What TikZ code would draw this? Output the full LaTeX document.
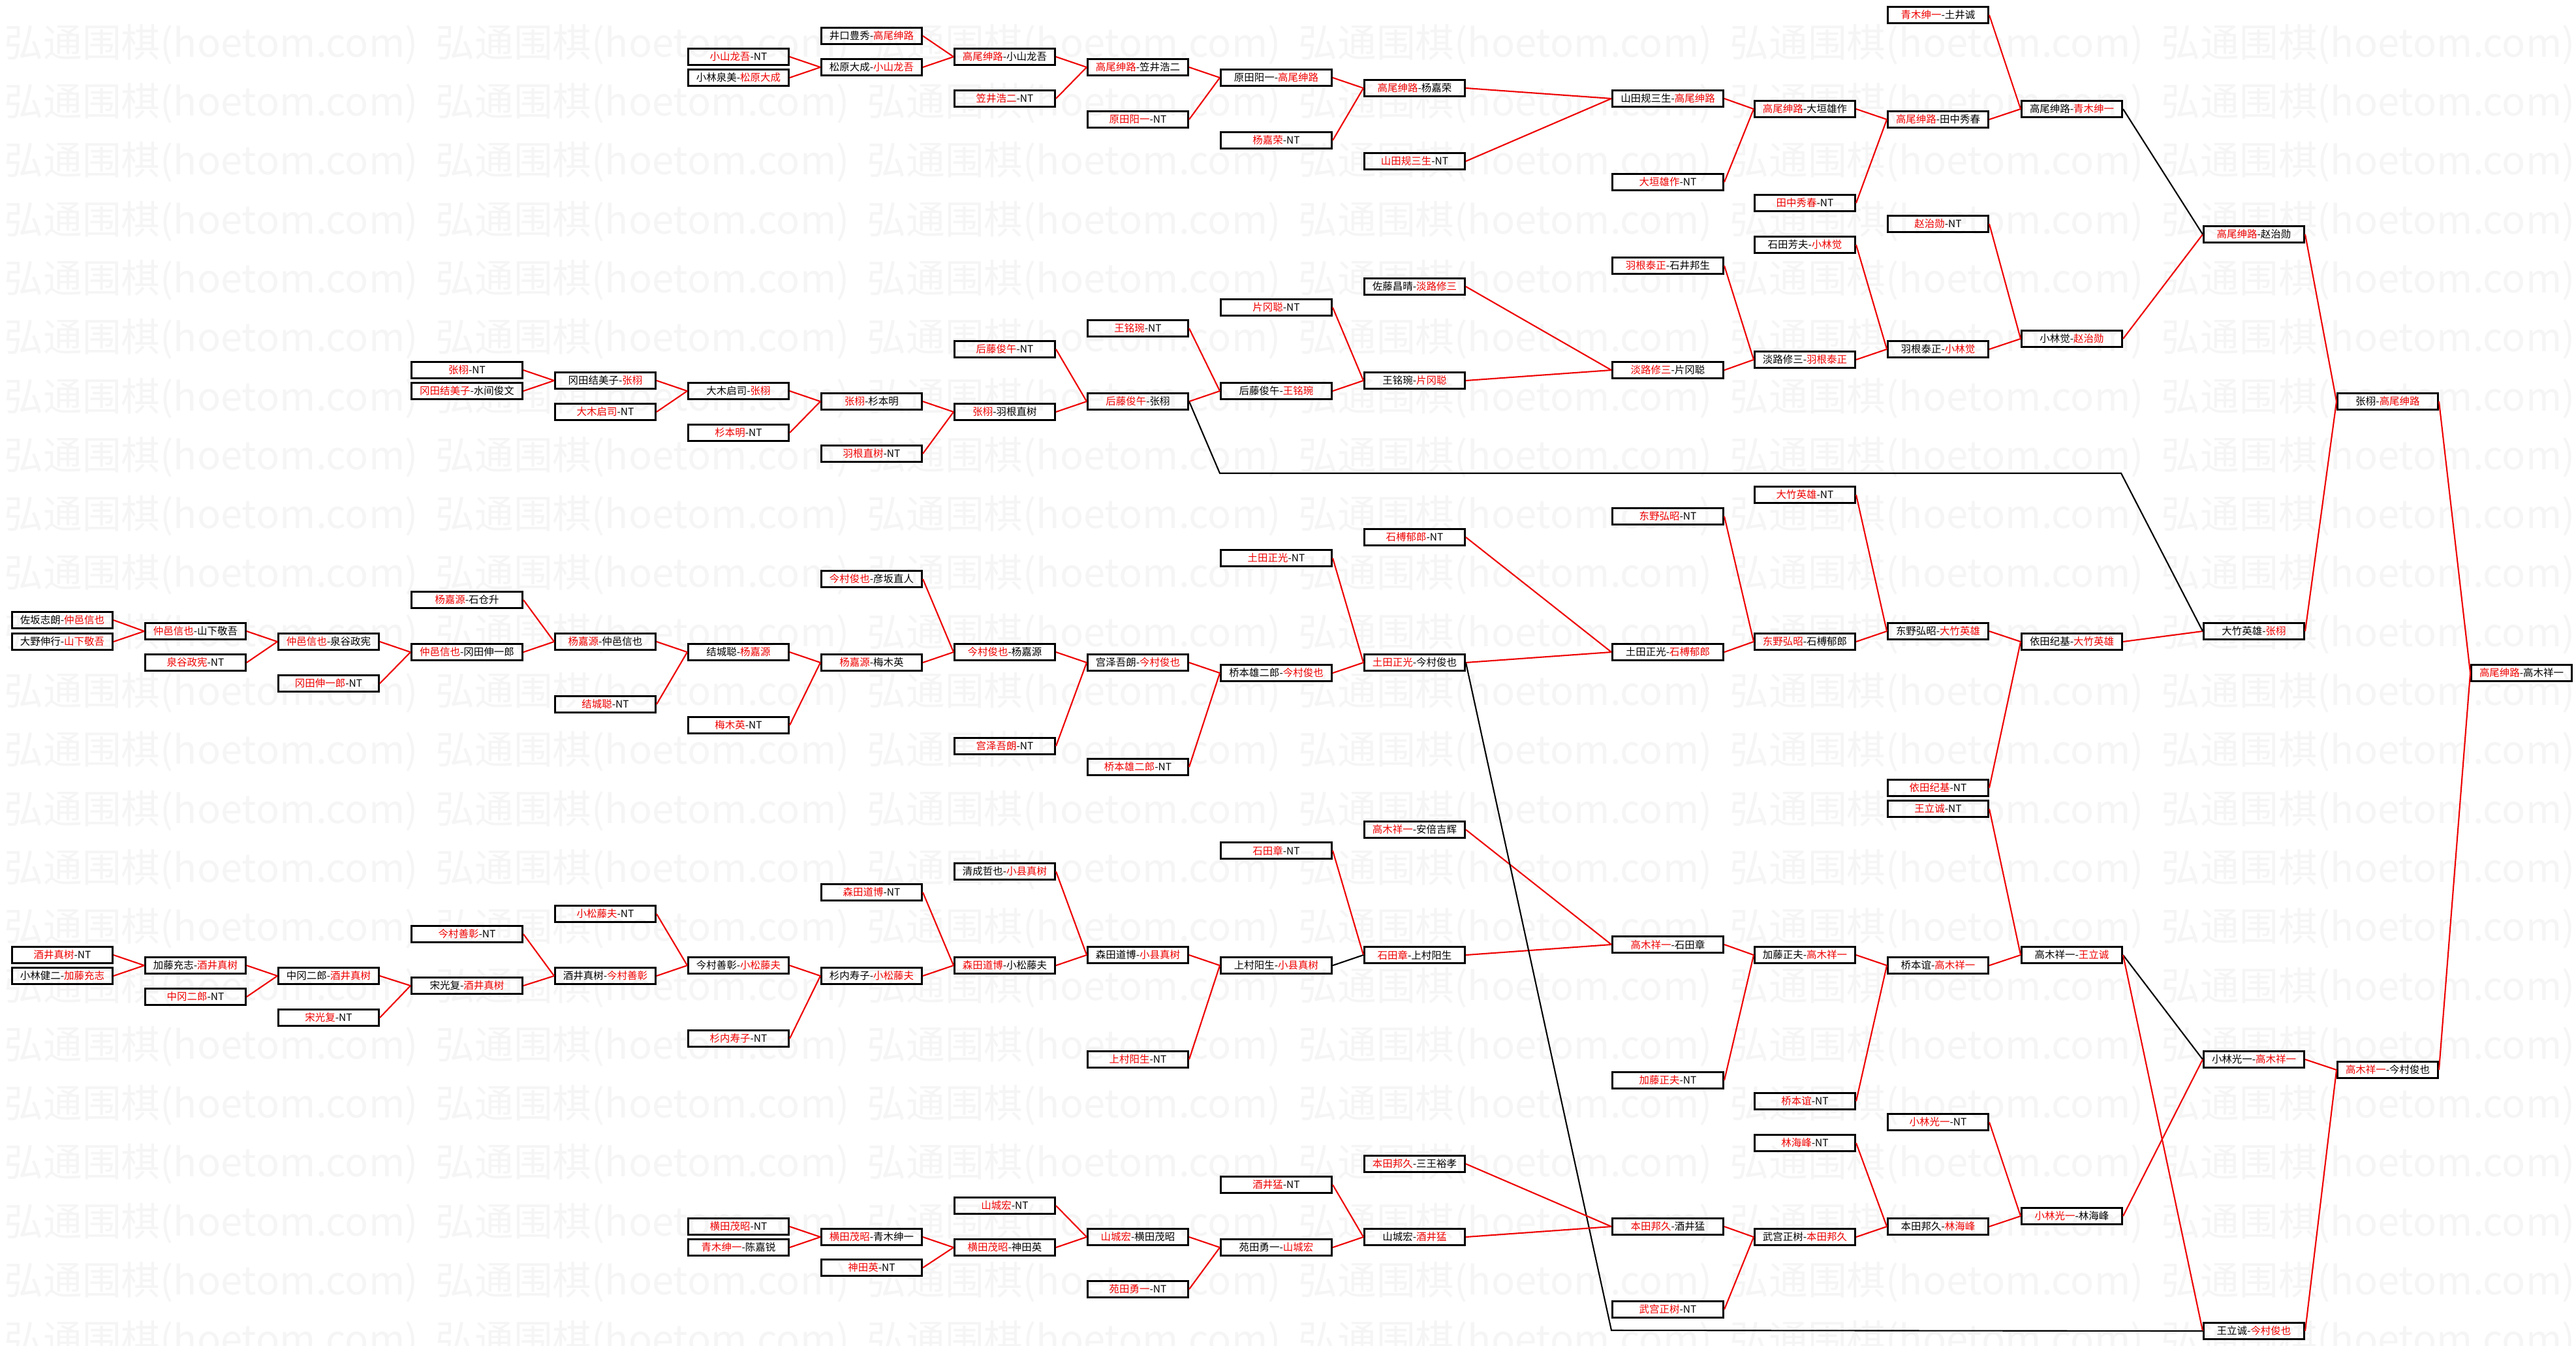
\documentclass[tikz,border=0pt]{standalone}
\usepackage{fontspec}
\usepackage{xcolor}
\usepackage{tikz}
\newfontfamily\cjk{Noto Sans CJK SC}
\definecolor{winred}{RGB}{238,0,0}
\newcommand{\W}[1]{\textcolor{winred}{#1}}
\tikzset{
  blk/.style={draw, line width=0.85pt, anchor=west, inner sep=0pt,
              minimum width=15.4mm, minimum height=2.5mm,
              font=\cjk\fontsize{4.4}{5}\selectfont},
  blkw/.style={blk, minimum width=17mm},
  win/.style={draw=winred, line width=0.6pt},
  lose/.style={draw=black, line width=0.6pt},
  wm/.style={anchor=west, inner sep=0pt, text=black!4,
             font=\cjk\fontsize{17}{17}\selectfont}
}
\begin{document}
\begin{tikzpicture}
  \useasboundingbox (0,0) rectangle (39.47,-20.61);
  \foreach \r in {0,...,22}
    \foreach \c in {0,...,5}
      \node[wm] at ({0.06+6.61*\c},{-0.68-0.903*\r}) {弘通围棋(hoetom.com)};

  \node[blk] (c0a) at (0.17,-9.50) {佐坂志朗-\W{仲邑信也}};
  \node[blk] (c0b) at (0.17,-9.83) {大野伸行-\W{山下敬吾}};
  \node[blk] (c0c) at (0.17,-14.63) {\W{酒井真树}-NT};
  \node[blk] (c0d) at (0.17,-14.95) {小林健二-\W{加藤充志}};

  \node[blk] (c1a) at (2.21,-9.67) {\W{仲邑信也}-山下敬吾};
  \node[blk] (c1b) at (2.21,-10.15) {\W{泉谷政宪}-NT};
  \node[blk] (c1c) at (2.21,-14.79) {加藤充志-\W{酒井真树}};
  \node[blk] (c1d) at (2.21,-15.27) {\W{中冈二郎}-NT};

  \node[blk] (c2a) at (4.25,-9.83) {\W{仲邑信也}-泉谷政宪};
  \node[blk] (c2b) at (4.25,-10.47) {\W{冈田伸一郎}-NT};
  \node[blk] (c2c) at (4.25,-14.95) {中冈二郎-\W{酒井真树}};
  \node[blk] (c2d) at (4.25,-15.59) {\W{宋光复}-NT};

  \node[blkw] (c3a) at (6.29,-5.67) {\W{张栩}-NT};
  \node[blkw] (c3b) at (6.29,-5.99) {\W{冈田结美子}-水间俊文};
  \node[blkw] (c3c) at (6.29,-9.19) {\W{杨嘉源}-石仓升};
  \node[blkw] (c3d) at (6.29,-9.99) {\W{仲邑信也}-冈田伸一郎};
  \node[blkw] (c3e) at (6.29,-14.31) {\W{今村善彰}-NT};
  \node[blkw] (c3f) at (6.29,-15.10) {宋光复-\W{酒井真树}};

  \node[blk] (c4a) at (8.49,-5.83) {冈田结美子-\W{张栩}};
  \node[blk] (c4b) at (8.49,-6.31) {\W{大木启司}-NT};
  \node[blk] (c4c) at (8.49,-9.83) {\W{杨嘉源}-仲邑信也};
  \node[blk] (c4d) at (8.49,-10.79) {\W{结城聪}-NT};
  \node[blk] (c4e) at (8.49,-14.00) {\W{小松藤夫}-NT};
  \node[blk] (c4f) at (8.49,-14.95) {酒井真树-\W{今村善彰}};

  \node[blk] (c5a) at (10.53,-0.87) {\W{小山龙吾}-NT};
  \node[blk] (c5b) at (10.53,-1.19) {小林泉美-\W{松原大成}};
  \node[blk] (c5c) at (10.53,-5.99) {大木启司-\W{张栩}};
  \node[blk] (c5d) at (10.53,-6.63) {\W{杉本明}-NT};
  \node[blk] (c5e) at (10.53,-9.99) {结城聪-\W{杨嘉源}};
  \node[blk] (c5f) at (10.53,-11.11) {\W{梅木英}-NT};
  \node[blk] (c5g) at (10.53,-14.79) {今村善彰-\W{小松藤夫}};
  \node[blk] (c5h) at (10.53,-15.91) {\W{杉内寿子}-NT};
  \node[blk] (c5i) at (10.53,-18.79) {\W{横田茂昭}-NT};
  \node[blk] (c5j) at (10.53,-19.11) {\W{青木绅一}-陈嘉锐};

  \node[blk] (c6a) at (12.57,-0.55) {井口豊秀-\W{高尾绅路}};
  \node[blk] (c6b) at (12.57,-1.03) {松原大成-\W{小山龙吾}};
  \node[blk] (c6c) at (12.57,-6.15) {\W{张栩}-杉本明};
  \node[blk] (c6d) at (12.57,-6.95) {\W{羽根直树}-NT};
  \node[blk] (c6e) at (12.57,-8.87) {\W{今村俊也}-彦坂直人};
  \node[blk] (c6f) at (12.57,-10.15) {\W{杨嘉源}-梅木英};
  \node[blk] (c6g) at (12.57,-13.67) {\W{森田道博}-NT};
  \node[blk] (c6h) at (12.57,-14.95) {杉内寿子-\W{小松藤夫}};
  \node[blk] (c6i) at (12.57,-18.95) {\W{横田茂昭}-青木绅一};
  \node[blk] (c6j) at (12.57,-19.42) {\W{神田英}-NT};

  \node[blk] (c7a) at (14.61,-0.87) {\W{高尾绅路}-小山龙吾};
  \node[blk] (c7b) at (14.61,-1.51) {\W{笠井浩二}-NT};
  \node[blk] (c7c) at (14.61,-5.35) {\W{后藤俊午}-NT};
  \node[blk] (c7d) at (14.61,-6.31) {\W{张栩}-羽根直树};
  \node[blk] (c7e) at (14.61,-9.99) {\W{今村俊也}-杨嘉源};
  \node[blk] (c7f) at (14.61,-11.43) {\W{宫泽吾朗}-NT};
  \node[blk] (c7g) at (14.61,-13.35) {清成哲也-\W{小县真树}};
  \node[blk] (c7h) at (14.61,-14.79) {\W{森田道博}-小松藤夫};
  \node[blk] (c7i) at (14.61,-18.47) {\W{山城宏}-NT};
  \node[blk] (c7j) at (14.61,-19.11) {\W{横田茂昭}-神田英};

  \node[blk] (c8a) at (16.65,-1.03) {\W{高尾绅路}-笠井浩二};
  \node[blk] (c8b) at (16.65,-1.83) {\W{原田阳一}-NT};
  \node[blk] (c8c) at (16.65,-5.03) {\W{王铭琬}-NT};
  \node[blk] (c8d) at (16.65,-6.15) {\W{后藤俊午}-张栩};
  \node[blk] (c8e) at (16.65,-10.15) {宫泽吾朗-\W{今村俊也}};
  \node[blk] (c8f) at (16.65,-11.75) {\W{桥本雄二郎}-NT};
  \node[blk] (c8g) at (16.65,-14.63) {森田道博-\W{小县真树}};
  \node[blk] (c8h) at (16.65,-16.23) {\W{上村阳生}-NT};
  \node[blk] (c8i) at (16.65,-18.95) {\W{山城宏}-横田茂昭};
  \node[blk] (c8j) at (16.65,-19.75) {\W{苑田勇一}-NT};

  \node[blkw] (c9a) at (18.69,-1.19) {原田阳一-\W{高尾绅路}};
  \node[blkw] (c9b) at (18.69,-2.15) {\W{杨嘉荣}-NT};
  \node[blkw] (c9c) at (18.69,-4.71) {\W{片冈聪}-NT};
  \node[blkw] (c9d) at (18.69,-5.99) {后藤俊午-\W{王铭琬}};
  \node[blkw] (c9e) at (18.69,-8.55) {\W{土田正光}-NT};
  \node[blkw] (c9f) at (18.69,-10.31) {桥本雄二郎-\W{今村俊也}};
  \node[blkw] (c9g) at (18.69,-13.03) {\W{石田章}-NT};
  \node[blkw] (c9h) at (18.69,-14.79) {上村阳生-\W{小县真树}};
  \node[blkw] (c9i) at (18.69,-18.15) {\W{酒井猛}-NT};
  \node[blkw] (c9j) at (18.69,-19.11) {苑田勇一-\W{山城宏}};

  \node[blk] (c10a) at (20.89,-1.35) {\W{高尾绅路}-杨嘉荣};
  \node[blk] (c10b) at (20.89,-2.47) {\W{山田规三生}-NT};
  \node[blk] (c10c) at (20.89,-4.39) {佐藤昌晴-\W{淡路修三}};
  \node[blk] (c10d) at (20.89,-5.83) {王铭琬-\W{片冈聪}};
  \node[blk] (c10e) at (20.89,-8.23) {\W{石榑郁郎}-NT};
  \node[blk] (c10f) at (20.89,-10.15) {\W{土田正光}-今村俊也};
  \node[blk] (c10g) at (20.89,-12.71) {\W{高木祥一}-安倍吉辉};
  \node[blk] (c10h) at (20.89,-14.63) {\W{石田章}-上村阳生};
  \node[blk] (c10i) at (20.89,-17.83) {\W{本田邦久}-三王裕孝};
  \node[blk] (c10j) at (20.89,-18.95) {山城宏-\W{酒井猛}};

  \node[blkw] (c11a) at (24.69,-1.51) {山田规三生-\W{高尾绅路}};
  \node[blkw] (c11b) at (24.69,-2.79) {\W{大垣雄作}-NT};
  \node[blkw] (c11c) at (24.69,-4.07) {\W{羽根泰正}-石井邦生};
  \node[blkw] (c11d) at (24.69,-5.67) {\W{淡路修三}-片冈聪};
  \node[blkw] (c11e) at (24.69,-7.91) {\W{东野弘昭}-NT};
  \node[blkw] (c11f) at (24.69,-9.99) {土田正光-\W{石榑郁郎}};
  \node[blkw] (c11g) at (24.69,-14.47) {\W{高木祥一}-石田章};
  \node[blkw] (c11h) at (24.69,-16.55) {\W{加藤正夫}-NT};
  \node[blkw] (c11i) at (24.69,-18.79) {\W{本田邦久}-酒井猛};
  \node[blkw] (c11j) at (24.69,-20.06) {\W{武宫正树}-NT};

  \node[blk] (c12a) at (26.87,-1.67) {\W{高尾绅路}-大垣雄作};
  \node[blk] (c12b) at (26.87,-3.11) {\W{田中秀春}-NT};
  \node[blk] (c12c) at (26.87,-3.75) {石田芳夫-\W{小林觉}};
  \node[blk] (c12d) at (26.87,-5.51) {淡路修三-\W{羽根泰正}};
  \node[blk] (c12e) at (26.87,-7.58) {\W{大竹英雄}-NT};
  \node[blk] (c12f) at (26.87,-9.83) {\W{东野弘昭}-石榑郁郎};
  \node[blk] (c12g) at (26.87,-14.63) {加藤正夫-\W{高木祥一}};
  \node[blk] (c12h) at (26.87,-16.87) {\W{桥本谊}-NT};
  \node[blk] (c12i) at (26.87,-17.51) {\W{林海峰}-NT};
  \node[blk] (c12j) at (26.87,-18.95) {武宫正树-\W{本田邦久}};

  \node[blk] (c13a) at (28.91,-0.23) {\W{青木绅一}-土井诚};
  \node[blk] (c13b) at (28.91,-1.83) {\W{高尾绅路}-田中秀春};
  \node[blk] (c13c) at (28.91,-3.43) {\W{赵治勋}-NT};
  \node[blk] (c13d) at (28.91,-5.35) {羽根泰正-\W{小林觉}};
  \node[blk] (c13e) at (28.91,-9.67) {东野弘昭-\W{大竹英雄}};
  \node[blk] (c13f) at (28.91,-12.07) {\W{依田纪基}-NT};
  \node[blk] (c13g) at (28.91,-12.39) {\W{王立诚}-NT};
  \node[blk] (c13h) at (28.91,-14.79) {桥本谊-\W{高木祥一}};
  \node[blk] (c13i) at (28.91,-17.19) {\W{小林光一}-NT};
  \node[blk] (c13j) at (28.91,-18.79) {本田邦久-\W{林海峰}};

  \node[blk] (c14a) at (30.96,-1.67) {高尾绅路-\W{青木绅一}};
  \node[blk] (c14b) at (30.96,-5.19) {小林觉-\W{赵治勋}};
  \node[blk] (c14c) at (30.96,-9.83) {依田纪基-\W{大竹英雄}};
  \node[blk] (c14d) at (30.96,-14.63) {高木祥一-\W{王立诚}};
  \node[blk] (c14e) at (30.96,-18.63) {\W{小林光一}-林海峰};

  \node[blk] (c15a) at (33.75,-3.59) {\W{高尾绅路}-赵治勋};
  \node[blk] (c15b) at (33.75,-9.67) {大竹英雄-\W{张栩}};
  \node[blk] (c15c) at (33.75,-16.23) {小林光一-\W{高木祥一}};
  \node[blk] (c15d) at (33.75,-20.39) {王立诚-\W{今村俊也}};

  \node[blk] (c16a) at (35.80,-6.15) {张栩-\W{高尾绅路}};
  \node[blk] (c16b) at (35.80,-16.39) {\W{高木祥一}-今村俊也};

  \node[blk] (c17a) at (37.85,-10.31) {\W{高尾绅路}-高木祥一};

  \coordinate (kinkA) at (18.69,-7.25);
  \coordinate (kinkB) at (32.50,-7.25);
  \coordinate (kinkC) at (24.69,-20.38);

  \draw[win] (c0a.east) -- (c1a.west); \draw[win] (c0b.east) -- (c1a.west);
  \draw[win] (c1a.east) -- (c2a.west); \draw[win] (c1b.east) -- (c2a.west);
  \draw[win] (c2a.east) -- (c3d.west); \draw[win] (c2b.east) -- (c3d.west);
  \draw[win] (c3c.east) -- (c4c.west); \draw[win] (c3d.east) -- (c4c.west);
  \draw[win] (c4c.east) -- (c5e.west); \draw[win] (c4d.east) -- (c5e.west);
  \draw[win] (c5e.east) -- (c6f.west); \draw[win] (c5f.east) -- (c6f.west);
  \draw[win] (c6e.east) -- (c7e.west); \draw[win] (c6f.east) -- (c7e.west);
  \draw[win] (c7e.east) -- (c8e.west); \draw[win] (c7f.east) -- (c8e.west);
  \draw[win] (c8e.east) -- (c9f.west); \draw[win] (c8f.east) -- (c9f.west);
  \draw[win] (c9e.east) -- (c10f.west); \draw[win] (c9f.east) -- (c10f.west);
  \draw[win] (c10e.east) -- (c11f.west); \draw[win] (c10f.east) -- (c11f.west);
  \draw[win] (c11e.east) -- (c12f.west); \draw[win] (c11f.east) -- (c12f.west);
  \draw[win] (c12e.east) -- (c13e.west); \draw[win] (c12f.east) -- (c13e.west);
  \draw[win] (c13e.east) -- (c14c.west); \draw[win] (c13f.east) -- (c14c.west);
  \draw[win] (c14c.east) -- (c15b.west);

  \draw[win] (c3a.east) -- (c4a.west); \draw[win] (c3b.east) -- (c4a.west);
  \draw[win] (c4a.east) -- (c5c.west); \draw[win] (c4b.east) -- (c5c.west);
  \draw[win] (c5c.east) -- (c6c.west); \draw[win] (c5d.east) -- (c6c.west);
  \draw[win] (c6c.east) -- (c7d.west); \draw[win] (c6d.east) -- (c7d.west);
  \draw[win] (c7c.east) -- (c8d.west); \draw[win] (c7d.east) -- (c8d.west);
  \draw[win] (c8c.east) -- (c9d.west); \draw[win] (c8d.east) -- (c9d.west);
  \draw[win] (c9c.east) -- (c10d.west); \draw[win] (c9d.east) -- (c10d.west);
  \draw[win] (c10c.east) -- (c11d.west); \draw[win] (c10d.east) -- (c11d.west);
  \draw[win] (c11c.east) -- (c12d.west); \draw[win] (c11d.east) -- (c12d.west);
  \draw[win] (c12c.east) -- (c13d.west); \draw[win] (c12d.east) -- (c13d.west);
  \draw[win] (c13c.east) -- (c14b.west); \draw[win] (c13d.east) -- (c14b.west);
  \draw[win] (c14b.east) -- (c15a.west); \draw[lose] (c14a.east) -- (c15a.west);
  \draw[lose] (c8d.east) -- (kinkA) -- (kinkB) -- (c15b.west);

  \draw[win] (c5a.east) -- (c6b.west); \draw[win] (c5b.east) -- (c6b.west);
  \draw[win] (c6a.east) -- (c7a.west); \draw[win] (c6b.east) -- (c7a.west);
  \draw[win] (c7a.east) -- (c8a.west); \draw[win] (c7b.east) -- (c8a.west);
  \draw[win] (c8a.east) -- (c9a.west); \draw[win] (c8b.east) -- (c9a.west);
  \draw[win] (c9a.east) -- (c10a.west); \draw[win] (c9b.east) -- (c10a.west);
  \draw[win] (c10a.east) -- (c11a.west); \draw[win] (c10b.east) -- (c11a.west);
  \draw[win] (c11a.east) -- (c12a.west); \draw[win] (c11b.east) -- (c12a.west);
  \draw[win] (c12a.east) -- (c13b.west); \draw[win] (c12b.east) -- (c13b.west);
  \draw[win] (c13a.east) -- (c14a.west); \draw[win] (c13b.east) -- (c14a.west);

  \draw[win] (c15a.east) -- (c16a.west); \draw[win] (c15b.east) -- (c16a.west);
  \draw[win] (c16a.east) -- (c17a.west); \draw[win] (c16b.east) -- (c17a.west);

  \draw[win] (c0c.east) -- (c1c.west); \draw[win] (c0d.east) -- (c1c.west);
  \draw[win] (c1c.east) -- (c2c.west); \draw[win] (c1d.east) -- (c2c.west);
  \draw[win] (c2c.east) -- (c3f.west); \draw[win] (c2d.east) -- (c3f.west);
  \draw[win] (c3e.east) -- (c4f.west); \draw[win] (c3f.east) -- (c4f.west);
  \draw[win] (c4e.east) -- (c5g.west); \draw[win] (c4f.east) -- (c5g.west);
  \draw[win] (c5g.east) -- (c6h.west); \draw[win] (c5h.east) -- (c6h.west);
  \draw[win] (c6g.east) -- (c7h.west); \draw[win] (c6h.east) -- (c7h.west);
  \draw[win] (c7g.east) -- (c8g.west); \draw[win] (c7h.east) -- (c8g.west);
  \draw[win] (c8g.east) -- (c9h.west); \draw[win] (c8h.east) -- (c9h.west);
  \draw[win] (c9g.east) -- (c10h.west); \draw[lose] (c9h.east) -- (c10h.west);
  \draw[win] (c10g.east) -- (c11g.west); \draw[win] (c10h.east) -- (c11g.west);
  \draw[win] (c11g.east) -- (c12g.west); \draw[win] (c11h.east) -- (c12g.west);
  \draw[win] (c12g.east) -- (c13h.west); \draw[win] (c12h.east) -- (c13h.west);
  \draw[win] (c13g.east) -- (c14d.west); \draw[win] (c13h.east) -- (c14d.west);
  \draw[lose] (c14d.east) -- (c15c.west); \draw[win] (c14e.east) -- (c15c.west);
  \draw[win] (c14d.east) -- (c15d.west);
  \draw[win] (c15c.east) -- (c16b.west); \draw[win] (c15d.east) -- (c16b.west);
  \draw[lose] (c10f.east) -- (kinkC) -- (c15d.west);

  \draw[win] (c5i.east) -- (c6i.west); \draw[win] (c5j.east) -- (c6i.west);
  \draw[win] (c6i.east) -- (c7j.west); \draw[win] (c6j.east) -- (c7j.west);
  \draw[win] (c7i.east) -- (c8i.west); \draw[win] (c7j.east) -- (c8i.west);
  \draw[win] (c8i.east) -- (c9j.west); \draw[win] (c8j.east) -- (c9j.west);
  \draw[win] (c9i.east) -- (c10j.west); \draw[win] (c9j.east) -- (c10j.west);
  \draw[win] (c10i.east) -- (c11i.west); \draw[win] (c10j.east) -- (c11i.west);
  \draw[win] (c11i.east) -- (c12j.west); \draw[win] (c11j.east) -- (c12j.west);
  \draw[win] (c12i.east) -- (c13j.west); \draw[win] (c12j.east) -- (c13j.west);
  \draw[win] (c13i.east) -- (c14e.west); \draw[win] (c13j.east) -- (c14e.west);
\end{tikzpicture}
\end{document}
